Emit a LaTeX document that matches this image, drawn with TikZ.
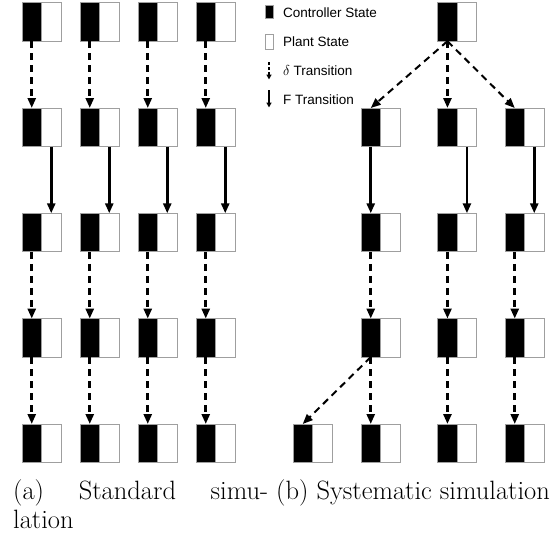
\documentclass[tikz,border=0pt]{standalone}
\usepackage{fontspec}
\newfontfamily\legendfont{Liberation Sans}
\usetikzlibrary{arrows.meta}

\tikzset{
  half/.style={draw=gray!75, line width=0.8pt, minimum width=19.5pt,
    minimum height=38.5pt, inner sep=0pt, outer sep=0pt, anchor=north west},
  ctrl/.style={half, fill=black},
  plant/.style={half, fill=white},
  tip/.style={-{Triangle[length=10pt,width=8pt]}},
  dtrans/.style={tip, line width=2.6pt, dash pattern=on 7pt off 5pt},
  ddiag/.style={tip, line width=2pt, dash pattern=on 7pt off 5pt},
  ftrans/.style={tip, line width=2.6pt},
  legtext/.style={font=\legendfont\fontsize{13.5}{16}\selectfont, anchor=west, inner sep=0pt},
  captext/.style={font=\fontsize{26.5}{31}\selectfont, anchor=base west, inner sep=0pt},
}

% a state: controller half (black) and plant half (white)
\newcommand\stbox[3]{%
  \node[ctrl] (#1c) at (#2,#3) {};
  \node[plant] (#1p) at (#2+19.5,#3) {};
}

\begin{document}
\begin{tikzpicture}[x=1pt,y=-1pt]
\useasboundingbox (0,0) rectangle (555,541);

% ---------- standard simulation ----------
\foreach \col/\x in {1/22,2/80,3/138,4/196}{
  \foreach \row/\y in {1/2.7,2/108,3/213.3,4/318.6,5/424}{
    \stbox{a\row\col}{\x}{\y}
  }
  \draw[dtrans] (a1\col c.south) -- (a2\col c.north);
  \draw[ftrans] (a2\col p.south) -- (a3\col p.north);
  \draw[dtrans] (a3\col c.south) -- (a4\col c.north);
  \draw[dtrans] (a4\col c.south) -- (a5\col c.north);
}

% ---------- systematic simulation ----------
\stbox{top}{437.7}{2.7}
\foreach \col/\x in {1/361,2/437.7,3/505}{
  \foreach \row/\y in {2/108,3/213.3,4/318.6,5/424}{
    \stbox{b\row\col}{\x}{\y}
  }
  \draw[dtrans] (b3\col c.south) -- (b4\col c.north);
  \draw[dtrans] (b4\col c.south) -- (b5\col c.north);
}
\stbox{b50}{293}{424}

\draw[ddiag] (topc.south) -- (b21c.north);
\draw[dtrans] (topc.south) -- (b22c.north);
\draw[ddiag] (topc.south) -- (b23c.north);

\draw[ftrans] (b21c.south) -- (b31c.north);
\draw[ftrans] (b22p.south) -- (b32p.north);
\draw[ftrans] (b23p.south) -- (b33p.north);

\draw[ddiag] (b41c.south) -- (b50c.north);

% ---------- legend ----------
\node[draw=gray!75, fill=black, line width=0.6pt, minimum width=8pt, minimum height=13pt,
      inner sep=0pt] (lc) at (269,12) {};
\node[draw=gray!75, fill=white, line width=0.8pt, minimum width=8pt, minimum height=15pt,
      inner sep=0pt] (lp) at (269,41.5) {};
\coordinate (ld1) at (269,62);
\coordinate (ld2) at (269,79.5);
\coordinate (lf1) at (269,90);
\coordinate (lf2) at (269,107.5);
\draw[line width=1.4pt, dash pattern=on 3pt off 2pt, -{Triangle[length=5pt,width=5pt]}] (ld1) -- (ld2);
\draw[line width=1.4pt, -{Triangle[length=5pt,width=5pt]}] (lf1) -- (lf2);

\node[legtext] (tc) at (283,13) {Controller State};
\node[legtext] (tp) at (283,41.7) {Plant State};
\node[legtext] (td) at (283,70.7) {$\delta$ Transition};
\node[legtext] (tf) at (283,99.3) {F Transition};

% ---------- captions ----------
\node[captext] (capa1) at (13,499) {\hbox to 255pt{(a)\hfill Standard\hfill simu-}};
\node[captext] (capa2) at (13,528) {lation};
\node[captext] (capb) at (276,499) {(b) Systematic simulation};

\end{tikzpicture}
\end{document}
